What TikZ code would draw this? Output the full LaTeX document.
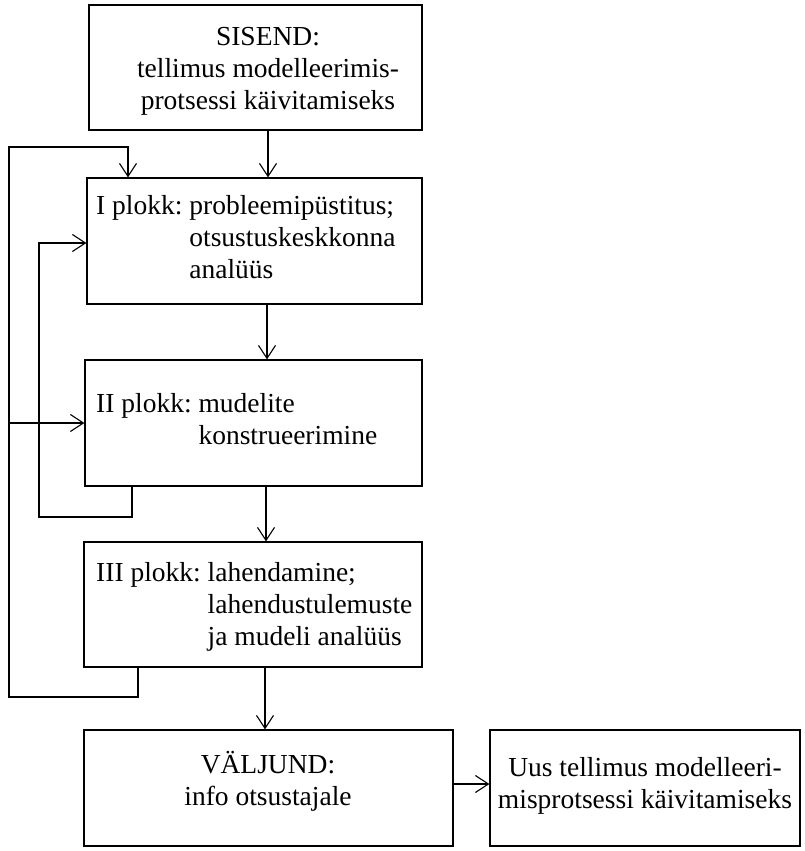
\documentclass[tikz,border=0pt]{standalone}
\usepackage{fontspec}
\setmainfont{Liberation Serif}
\usetikzlibrary{arrows.meta}

\tikzset{
  blk/.style={draw, line width=1.2pt, inner sep=0pt},
  lbl/.style={inner sep=0pt, font=\fontsize{27.5}{32}\selectfont},
  arr/.style={line width=1.1pt, -{Straight Barb[length=13pt,width=17pt]}},
  wire/.style={line width=1.1pt}
}

\begin{document}
\begin{tikzpicture}[x=1pt,y=-1pt]
\useasboundingbox (0,0) rectangle (805,851);

% boxes
\node[blk, minimum width=333pt, minimum height=125pt] (sisend)  at (255.5,67.5) {};
\node[blk, minimum width=335pt, minimum height=126pt] (p1)      at (254.5,241) {};
\node[blk, minimum width=337pt, minimum height=126pt] (p2)      at (253.5,423) {};
\node[blk, minimum width=338pt, minimum height=125pt] (p3)      at (253,604.5) {};
\node[blk, minimum width=369pt, minimum height=116pt] (valjund) at (268.5,788) {};
\node[blk, minimum width=310pt, minimum height=116pt] (uus)     at (645,788) {};

% texts
\node[lbl, align=center] (tsisend) at (268,71) {SISEND:\\tellimus modelleerimis-\\protsessi käivitamiseks};
\node[lbl, anchor=west] (tp1) at (96,240) {\begin{tabular}{@{}l@{\ }l@{}}I plokk: & probleemipüstitus;\\ & otsustuskeskkonna\\ & analüüs\end{tabular}};
\node[lbl, anchor=west] (tp2) at (96,422) {\begin{tabular}{@{}l@{\ }l@{}}II plokk: & mudelite\\ & konstrueerimine\end{tabular}};
\node[lbl, anchor=west] (tp3) at (96,607) {\begin{tabular}{@{}l@{\ }l@{}}III plokk: & lahendamine;\\ & lahendustulemuste\\ & ja mudeli analüüs\end{tabular}};
\node[lbl, align=center] (tvaljund) at (268,781) {VÄLJUND:\\info otsustajale};
\node[lbl, align=center] (tuus) at (645,786) {Uus tellimus modelleeri-\\misprotsessi käivitamiseks};

% main flow
\coordinate (ax1) at (268,0);
\coordinate (ax2) at (267,0);
\coordinate (ax3) at (266,0);
\coordinate (ax4) at (265,0);
\draw[arr] (sisend.south -| ax1) -- (p1.north -| ax1);
\draw[arr] (p1.south -| ax2) -- (p2.north -| ax2);
\draw[arr] (p2.south -| ax3) -- (p3.north -| ax3);
\draw[arr] (p3.south -| ax4) -- (valjund.north -| ax4);
\coordinate (ay) at (0,784);
\draw[arr] (valjund.east |- ay) -- (uus.west |- ay);

% outer feedback loop
\coordinate (o1) at (138,697);
\coordinate (o2) at (9,697);
\coordinate (o3) at (9,147);
\coordinate (o4) at (128,147);
\draw[arr] (p3.south -| o1) -- (o1) -- (o2) -- (o3) -- (o4) -- (p1.north -| o4);
\coordinate (ob) at (9,423);
\draw[arr] (ob) -- (p2.west);

% inner feedback loop
\coordinate (i1) at (132,517);
\coordinate (i2) at (39,517);
\coordinate (i3) at (39,243);
\draw[arr] (p2.south -| i1) -- (i1) -- (i2) -- (i3) -- (p1.west |- i3);
\end{tikzpicture}
\end{document}
